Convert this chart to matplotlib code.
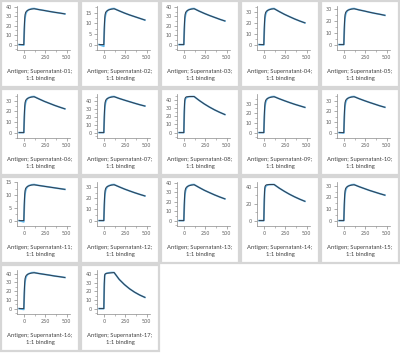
import numpy as np
import matplotlib.pyplot as plt
from matplotlib.patches import Rectangle
from matplotlib.ticker import MultipleLocator

# Time points (s) shared by every sensorgram
times = [-55, 0, 5, 10, 15, 20, 30, 45, 60, 90, 120, 180, 240, 300, 360, 420, 480]

samples = ["Supernatant-%02d" % i for i in range(1, 18)]

# Fitted 1:1 binding curves (RU)
fit_curves = [
    [0, 0, 17.1, 27.4, 31.9, 33.8, 35.3, 36.3, 36.9, 37.6, 38.0, 37.0, 36.1, 35.1, 34.2, 33.4, 32.5],
    [0, 0, 7.6, 12.1, 14.1, 15.0, 15.6, 16.0, 16.3, 16.6, 16.8, 15.8, 14.8, 13.9, 13.1, 12.3, 11.5],
    [0, 0, 17.1, 27.4, 31.9, 33.8, 35.3, 36.3, 36.9, 37.6, 38.0, 35.4, 33.0, 30.8, 28.8, 26.8, 25.0],
    [0, 0, 14.9, 23.8, 27.7, 29.4, 30.7, 31.5, 32.0, 32.7, 33.0, 30.4, 27.9, 25.7, 23.6, 21.7, 20.0],
    [0, 0, 13.5, 21.6, 25.2, 26.7, 27.9, 28.7, 29.1, 29.7, 30.0, 29.0, 28.1, 27.1, 26.2, 25.4, 24.5],
    [0, 0, 15.3, 24.5, 28.6, 30.3, 31.6, 32.5, 33.0, 33.7, 34.0, 31.8, 29.6, 27.7, 25.8, 24.1, 22.5],
    [0, 0, 20.7, 33.1, 38.6, 40.9, 42.8, 43.9, 44.6, 45.5, 46.0, 43.7, 41.6, 39.6, 37.6, 35.7, 34.0],
    [0, 0, 26.4, 38.7, 41.8, 42.9, 43.6, 43.8, 44.0, 44.0, 44.0, 39.2, 34.9, 31.1, 27.7, 24.7, 22.0],
    [0, 0, 16.7, 26.6, 31.1, 32.9, 34.4, 35.3, 35.9, 36.6, 37.0, 34.9, 32.9, 31.0, 29.2, 27.6, 26.0],
    [0, 0, 15.3, 24.5, 28.6, 30.3, 31.6, 32.5, 33.0, 33.7, 34.0, 32.1, 30.3, 28.6, 27.0, 25.4, 24.0],
    [0, 0, 6.3, 10.1, 11.8, 12.5, 13.0, 13.4, 13.6, 13.9, 14.0, 13.7, 13.4, 13.1, 12.8, 12.5, 12.2],
    [0, 0, 14.4, 23.0, 26.9, 28.5, 29.8, 30.6, 31.0, 31.7, 32.0, 30.1, 28.2, 26.5, 24.9, 23.4, 22.0],
    [0, 0, 17.1, 27.4, 31.9, 33.8, 35.3, 36.3, 36.9, 37.6, 38.0, 35.0, 32.1, 29.6, 27.2, 25.0, 23.0],
    [0, 0, 25.8, 37.8, 40.9, 41.9, 42.6, 42.8, 43.0, 43.0, 43.0, 38.7, 34.9, 31.4, 28.3, 25.5, 23.0],
    [0, 0, 14.0, 22.3, 26.0, 27.6, 28.8, 29.6, 30.1, 30.7, 31.0, 29.3, 27.7, 26.1, 24.7, 23.3, 22.0],
    [0, 0, 18.5, 29.5, 34.4, 36.5, 38.1, 39.2, 39.8, 40.6, 41.0, 40.0, 39.1, 38.2, 37.2, 36.4, 35.5],
    [0, 0, 28.7, 39.0, 40.0, 40.4, 40.8, 41.0, 41.2, 41.5, 41.8, 33.8, 27.9, 23.0, 19.0, 15.7, 13.0],
]

# Measured responses (RU)
measured_curves = [
    [0, -0.5, 13.3, 23.6, 28.9, 31.5, 34.2, 36.1, 37.1, 38.0, 38.2, 37.0, 36.1, 35.1, 34.2, 33.4, 32.5],
    [0, -0.8, 5.9, 10.4, 12.8, 13.9, 15.1, 16.0, 16.4, 16.8, 16.9, 15.8, 14.8, 13.9, 13.1, 12.3, 11.5],
    [0, 0, 13.3, 23.6, 28.9, 31.5, 34.2, 36.1, 37.1, 38.0, 38.2, 35.4, 33.0, 30.8, 28.8, 26.8, 25.0],
    [0, -0.3, 11.6, 20.5, 25.1, 27.4, 29.7, 31.4, 32.2, 33.0, 33.2, 30.4, 27.9, 25.7, 23.6, 21.7, 20.0],
    [0, 0, 10.5, 18.6, 22.8, 24.9, 27.0, 28.5, 29.3, 30.0, 30.2, 29.0, 28.1, 27.1, 26.2, 25.4, 24.5],
    [0, 0, 11.9, 21.1, 25.8, 28.2, 30.6, 32.3, 33.2, 34.0, 34.2, 31.8, 29.6, 27.7, 25.8, 24.1, 22.5],
    [0, 0, 16.1, 28.5, 35.0, 38.2, 41.4, 43.7, 44.9, 46.0, 46.2, 43.7, 41.6, 39.6, 37.6, 35.7, 34.0],
    [0, 0, 22.0, 35.2, 39.6, 41.4, 42.7, 43.3, 43.8, 44.0, 44.0, 39.2, 34.9, 31.1, 27.7, 24.7, 22.0],
    [0, 0, 13.0, 22.9, 28.1, 30.7, 33.3, 35.2, 36.1, 37.0, 37.2, 34.9, 32.9, 31.0, 29.2, 27.6, 26.0],
    [0, -0.4, 11.9, 21.1, 25.8, 28.2, 30.6, 32.3, 33.2, 34.0, 34.2, 32.1, 30.3, 28.6, 27.0, 25.4, 24.0],
    [0, -0.5, 4.9, 8.7, 10.6, 11.6, 12.6, 13.3, 13.7, 14.0, 14.1, 13.7, 13.4, 13.1, 12.8, 12.5, 12.2],
    [0, 0, 11.2, 19.8, 24.3, 26.6, 28.8, 30.4, 31.2, 32.0, 32.2, 30.1, 28.2, 26.5, 24.9, 23.4, 22.0],
    [0, 0, 13.3, 23.6, 28.9, 31.5, 34.2, 36.1, 37.1, 38.0, 38.2, 35.0, 32.1, 29.6, 27.2, 25.0, 23.0],
    [0, 0, 21.5, 34.4, 38.7, 40.4, 41.7, 42.4, 42.8, 43.0, 43.0, 38.7, 34.9, 31.4, 28.3, 25.5, 23.0],
    [0, 0, 10.9, 19.2, 23.6, 25.7, 27.9, 29.5, 30.2, 31.0, 31.2, 29.3, 27.7, 26.1, 24.7, 23.3, 22.0],
    [0, -1.0, 14.4, 25.4, 31.2, 34.0, 36.9, 39.0, 40.0, 41.0, 41.2, 40.0, 39.1, 38.2, 37.2, 36.4, 35.5],
    [0, 0, 25.0, 37.5, 39.5, 40.2, 40.8, 41.2, 41.5, 41.8, 41.8, 33.8, 27.9, 23.0, 19.0, 15.7, 13.0],
]

# Major y tick step for each panel
y_steps = [10, 5, 10, 10, 10, 10, 10, 10, 10, 10, 5, 10, 10, 20, 10, 10, 10]

W, H = 400, 360
card_w, card_h = 80, 88

fig = plt.figure(figsize=(W / 100, H / 100), dpi=100)
fig.patch.set_facecolor('white')


def px_box(x0, y0, w, h):
    # pixel box (top-left origin) -> figure fraction
    return [x0 / W, 1 - (y0 + h) / H, w / W, h / H]


for i, name in enumerate(samples):
    col, row = i % 5, i // 5
    cx, cy = col * card_w, row * card_h

    # card frame, kept behind the axes
    bx = px_box(cx + 1, cy + 1, card_w - 2, card_h - 2)
    fig.patches.append(Rectangle((bx[0], bx[1]), bx[2], bx[3], transform=fig.transFigure,
                                 facecolor='white', edgecolor='#d6d6d6', linewidth=1.6, zorder=-5))

    ax = fig.add_axes(px_box(cx + 17, cy + 6, 53, 44))
    ax.set_zorder(2)
    ax.set_facecolor('none')
    t = np.array(times)
    ax.plot(t, measured_curves[i], color='#62b8ec', linewidth=1.25, solid_joinstyle='round')
    ax.plot(t, fit_curves[i], color='#34404f', linewidth=0.75, solid_joinstyle='round')

    peak = max(max(fit_curves[i]), max(measured_curves[i]))
    ax.set_xlim(-80, 540)
    ax.set_ylim(-0.15 * peak, 1.07 * peak)

    step = y_steps[i]
    ax.xaxis.set_major_locator(MultipleLocator(250))
    ax.xaxis.set_minor_locator(MultipleLocator(125))
    ax.yaxis.set_major_locator(MultipleLocator(step))
    ax.yaxis.set_minor_locator(MultipleLocator(step / 2))

    for side in ['top', 'right']:
        ax.spines[side].set_visible(False)
    for side in ['left', 'bottom']:
        ax.spines[side].set_color('#8a8a8a')
        ax.spines[side].set_linewidth(0.5)
    ax.tick_params(which='major', length=2, width=0.5, color='#8a8a8a', pad=1.5,
                   labelsize=3.5, labelcolor='#606060')
    ax.tick_params(which='minor', length=1.2, width=0.4, color='#8a8a8a')

    fig.text((cx + 40) / W, 1 - (cy + 75) / H, "Antigen; " + name + ";\n1:1 binding",
             ha='center', va='center', fontsize=4.2, family='Lato', color='#404040',
             linespacing=1.45, zorder=3)

plt.savefig('out.png', dpi=100)
